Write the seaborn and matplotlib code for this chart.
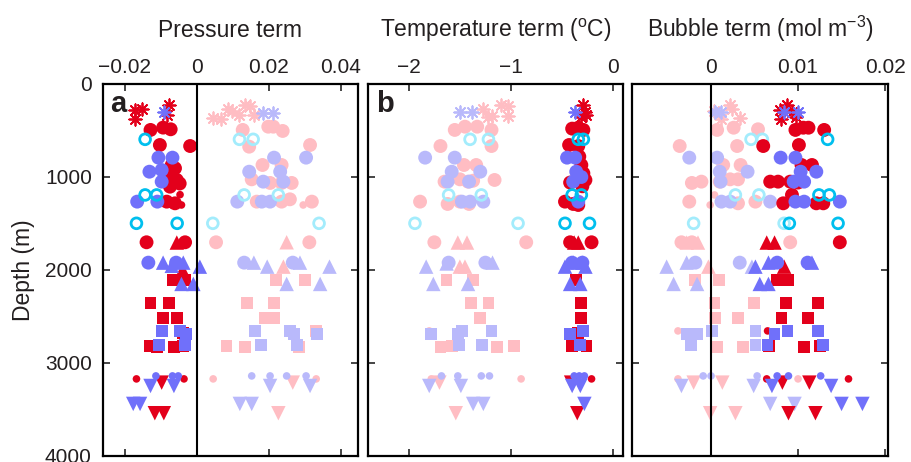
import matplotlib
matplotlib.use('Agg')
import matplotlib.pyplot as plt
import seaborn as sns
import pandas as pd

# each sample: (value, depth in m, site)
# site -> marker: ast = asterisk, circ = big circle, dot = small circle,
# tri = up triangle, sq = square, dtri = down triangle, ring = open circle

# ---- panel a: pressure term ----
pressure_red = [
    (-0.0172, 280, 'ast'), (-0.0154, 273, 'ast'), (-0.0172, 380, 'ast'), (-0.0077, 226, 'ast'), (-0.0084, 333, 'ast'),
    (-0.0129, 494, 'circ'), (-0.0094, 469, 'circ'), (-0.0073, 487, 'circ'), (-0.0103, 656, 'circ'), (-0.0019, 667, 'circ'),
    (-0.0070, 871, 'circ'), (-0.0061, 906, 'circ'), (-0.0080, 990, 'circ'), (-0.0056, 1032, 'circ'), (-0.0048, 1070, 'circ'),
    (-0.0075, 1104, 'circ'), (-0.0084, 1265, 'circ'), (-0.0061, 1283, 'circ'), (-0.0140, 1702, 'circ'), (-0.0033, 1702, 'circ'),
    (-0.0047, 1190, 'dot'), (-0.0043, 1301, 'dot'), (-0.0070, 1300, 'dot'),
    (-0.0056, 1705, 'tri'), (-0.0040, 2000, 'tri'),
    (-0.0066, 2107, 'sq'), (-0.0033, 2107, 'sq'), (-0.0129, 2358, 'sq'), (-0.0078, 2358, 'sq'), (-0.0094, 2512, 'sq'),
    (-0.0056, 2512, 'sq'), (-0.0038, 2680, 'sq'), (-0.0132, 2817, 'sq'), (-0.0112, 2830, 'sq'), (-0.0064, 2830, 'sq'),
    (-0.0038, 2817, 'sq'),
    (-0.0168, 3171, 'dot'), (-0.0036, 3171, 'dot'),
    (-0.0098, 3211, 'dtri'), (-0.0117, 3540, 'dtri'), (-0.0092, 3540, 'dtri'),
]
pressure_blue = [
    (-0.0092, 297, 'ast'),
    (-0.0107, 792, 'circ'), (-0.0068, 792, 'circ'), (-0.0132, 943, 'circ'), (-0.0098, 925, 'circ'), (-0.0098, 1050, 'circ'),
    (-0.0166, 1265, 'circ'), (-0.0110, 1265, 'circ'), (-0.0135, 1921, 'circ'), (-0.0058, 1921, 'circ'),
    (-0.0094, 1921, 'tri'), (-0.0070, 1955, 'tri'), (-0.0038, 1921, 'tri'), (0.0008, 1964, 'tri'), (-0.0043, 2150, 'tri'),
    (-0.0010, 2150, 'tri'),
    (-0.0098, 2655, 'sq'), (-0.0047, 2655, 'sq'), (-0.0031, 2688, 'sq'), (-0.0105, 2806, 'sq'), (-0.0033, 2806, 'sq'),
    (-0.0114, 3139, 'dot'), (-0.0068, 3139, 'dot'), (-0.0052, 3139, 'dot'),
    (-0.0129, 3247, 'dtri'), (-0.0064, 3247, 'dtri'), (-0.0177, 3440, 'dtri'), (-0.0158, 3440, 'dtri'),
]
pressure_cyan = [
    (-0.0144, 595, 'ring'), (-0.0144, 1193, 'ring'), (-0.0112, 1193, 'ring'), (-0.0168, 1498, 'ring'), (-0.0055, 1498, 'ring'),
]
pressure_pink = [
    (0.0045, 369, 'ast'), (0.0066, 380, 'ast'), (0.0087, 272, 'ast'), (0.0096, 287, 'ast'), (0.0118, 333, 'ast'),
    (0.0133, 226, 'ast'), (0.0147, 237, 'ast'), (0.0158, 333, 'ast'),
    (0.0127, 494, 'circ'), (0.0198, 459, 'circ'), (0.0212, 459, 'circ'), (0.0238, 505, 'circ'), (0.0145, 674, 'circ'),
    (0.0314, 656, 'circ'), (0.0182, 871, 'circ'), (0.0235, 871, 'circ'), (0.0152, 1025, 'circ'), (0.0203, 1064, 'circ'),
    (0.0235, 1064, 'circ'), (0.0263, 1064, 'circ'), (0.0166, 1265, 'circ'), (0.0235, 1265, 'circ'), (0.0258, 1240, 'circ'),
    (0.0319, 1265, 'circ'), (0.0053, 1702, 'circ'), (0.0312, 1702, 'circ'),
    (0.0295, 1301, 'dot'),
    (0.0249, 1702, 'tri'), (0.0240, 1964, 'tri'),
    (0.0219, 2107, 'sq'), (0.0300, 2107, 'sq'), (0.0138, 2358, 'sq'), (0.0214, 2358, 'sq'), (0.0189, 2512, 'sq'),
    (0.0214, 2512, 'sq'), (0.0330, 2655, 'sq'), (0.0082, 2817, 'sq'), (0.0133, 2830, 'sq'), (0.0284, 2830, 'sq'),
    (0.0045, 3171, 'dot'), (0.0331, 3171, 'dot'),
    (0.0266, 3211, 'dtri'), (0.0226, 3540, 'dtri'),
]
pressure_lav = [
    (0.0182, 308, 'ast'), (0.0210, 308, 'ast'),
    (0.0214, 792, 'circ'), (0.0303, 792, 'circ'), (0.0145, 943, 'circ'), (0.0231, 943, 'circ'), (0.0184, 1050, 'circ'),
    (0.0240, 1050, 'circ'), (0.0112, 1265, 'circ'), (0.0180, 1265, 'circ'), (0.0203, 1265, 'circ'), (0.0131, 1921, 'circ'),
    (0.0266, 1921, 'circ'),
    (0.0158, 1921, 'tri'), (0.0195, 1964, 'tri'), (0.0286, 1921, 'tri'), (0.0368, 1964, 'tri'), (0.0249, 2150, 'tri'),
    (0.0342, 2150, 'tri'),
    (0.0161, 2655, 'sq'), (0.0258, 2655, 'sq'), (0.0269, 2688, 'sq'), (0.0334, 2688, 'sq'), (0.0177, 2806, 'sq'),
    (0.0277, 2806, 'sq'),
    (0.0152, 3139, 'dot'), (0.0203, 3139, 'dot'), (0.0249, 3139, 'dot'), (0.0303, 3139, 'dot'),
    (0.0203, 3247, 'dtri'), (0.0314, 3247, 'dtri'), (0.0119, 3440, 'dtri'), (0.0152, 3440, 'dtri'),
]
pressure_lcyan = [
    (0.0118, 595, 'ring'), (0.0156, 595, 'ring'), (0.0131, 1193, 'ring'), (0.0226, 1193, 'ring'), (0.0044, 1498, 'ring'),
    (0.0339, 1498, 'ring'),
]

# ---- panel b: temperature term ----
temp_red = [
    (-0.29, 226, 'ast'), (-0.27, 297, 'ast'), (-0.26, 333, 'ast'), (-0.31, 351, 'ast'),
    (-0.40, 480, 'circ'), (-0.29, 494, 'circ'), (-0.34, 470, 'circ'), (-0.43, 656, 'circ'), (-0.34, 667, 'circ'),
    (-0.33, 780, 'circ'), (-0.31, 871, 'circ'), (-0.29, 960, 'circ'), (-0.27, 1032, 'circ'), (-0.42, 1060, 'circ'),
    (-0.30, 1100, 'circ'), (-0.47, 1265, 'circ'), (-0.39, 1290, 'circ'), (-0.34, 1301, 'circ'), (-0.42, 1702, 'circ'),
    (-0.21, 1702, 'circ'),
    (-0.34, 1705, 'tri'), (-0.38, 1705, 'tri'),
    (-0.36, 2107, 'sq'), (-0.31, 2358, 'sq'), (-0.31, 2512, 'sq'), (-0.34, 2680, 'sq'), (-0.40, 2817, 'sq'),
    (-0.26, 2817, 'sq'),
    (-0.21, 3171, 'dot'),
    (-0.41, 3211, 'dtri'), (-0.35, 3540, 'dtri'),
]
temp_blue = [
    (-0.37, 297, 'ast'),
    (-0.45, 792, 'circ'), (-0.37, 792, 'circ'), (-0.36, 943, 'circ'), (-0.31, 1000, 'circ'), (-0.39, 1050, 'circ'),
    (-0.34, 1265, 'circ'), (-0.40, 1921, 'circ'), (-0.30, 1921, 'circ'),
    (-0.47, 1964, 'tri'), (-0.39, 1921, 'tri'), (-0.30, 1921, 'tri'), (-0.27, 1964, 'tri'), (-0.42, 2150, 'tri'),
    (-0.32, 2150, 'tri'),
    (-0.42, 2688, 'sq'), (-0.29, 2655, 'sq'), (-0.32, 2806, 'sq'),
    (-0.38, 3139, 'dot'), (-0.33, 3139, 'dot'), (-0.28, 3139, 'dot'),
    (-0.40, 3247, 'dtri'), (-0.32, 3247, 'dtri'), (-0.28, 3440, 'dtri'),
]
temp_cyan = [
    (-0.34, 595, 'ring'), (-0.29, 595, 'ring'), (-0.40, 1193, 'ring'), (-0.31, 1193, 'ring'), (-0.47, 1498, 'ring'),
    (-0.23, 1498, 'ring'),
]
temp_pink = [
    (-1.27, 272, 'ast'), (-1.19, 340, 'ast'), (-1.10, 226, 'ast'), (-1.03, 237, 'ast'), (-1.03, 345, 'ast'),
    (-1.22, 360, 'ast'),
    (-1.55, 494, 'circ'), (-1.45, 459, 'circ'), (-1.33, 459, 'circ'), (-1.19, 494, 'circ'), (-1.69, 667, 'circ'),
    (-1.19, 667, 'circ'), (-1.46, 871, 'circ'), (-1.34, 871, 'circ'), (-1.65, 1050, 'circ'), (-1.50, 1025, 'circ'),
    (-1.42, 1050, 'circ'), (-1.37, 1040, 'circ'), (-1.16, 1032, 'circ'), (-1.89, 1265, 'circ'), (-1.62, 1290, 'circ'),
    (-1.50, 1265, 'circ'), (-1.41, 1290, 'circ'), (-1.75, 1702, 'circ'), (-0.85, 1702, 'circ'),
    (-1.63, 1301, 'dot'),
    (-1.52, 1705, 'tri'), (-1.43, 1705, 'tri'), (-1.50, 1964, 'tri'), (-1.45, 1964, 'tri'),
    (-1.63, 2107, 'sq'), (-1.37, 2107, 'sq'), (-1.39, 2358, 'sq'), (-1.22, 2358, 'sq'), (-1.30, 2512, 'sq'),
    (-1.69, 2830, 'sq'), (-1.58, 2817, 'sq'), (-1.14, 2830, 'sq'), (-0.97, 2817, 'sq'),
    (-1.80, 2655, 'dot'), (-1.78, 3171, 'dot'), (-0.90, 3171, 'dot'),
    (-1.70, 3211, 'dtri'), (-1.54, 3540, 'dtri'),
]
temp_lav = [
    (-1.50, 297, 'ast'), (-1.38, 297, 'ast'),
    (-1.84, 792, 'circ'), (-1.55, 792, 'circ'), (-1.58, 943, 'circ'), (-1.30, 943, 'circ'), (-1.62, 1050, 'circ'),
    (-1.41, 1050, 'circ'), (-1.48, 1265, 'circ'), (-1.40, 1265, 'circ'), (-1.27, 1265, 'circ'), (-1.61, 1921, 'circ'),
    (-1.25, 1921, 'circ'),
    (-1.83, 1964, 'tri'), (-1.63, 1930, 'tri'), (-1.18, 1921, 'tri'), (-1.76, 2150, 'tri'), (-1.42, 2150, 'tri'),
    (-1.78, 2688, 'sq'), (-1.52, 2688, 'sq'), (-1.48, 2655, 'sq'), (-1.19, 2655, 'sq'), (-1.51, 2806, 'sq'),
    (-1.28, 2806, 'sq'),
    (-1.68, 3139, 'dot'), (-1.52, 3139, 'dot'), (-1.29, 3139, 'dot'), (-1.21, 3139, 'dot'),
    (-1.80, 3247, 'dtri'), (-1.49, 3247, 'dtri'), (-1.37, 3440, 'dtri'), (-1.27, 3440, 'dtri'),
]
temp_lcyan = [
    (-1.40, 595, 'ring'), (-1.22, 595, 'ring'), (-1.61, 1193, 'ring'), (-1.29, 1193, 'ring'), (-1.94, 1498, 'ring'),
    (-0.93, 1498, 'ring'),
]

# ---- panel c: bubble term ----
bubble_red = [
    (0.0079, 280, 'ast'), (0.0087, 226, 'ast'), (0.0093, 297, 'ast'), (0.0080, 380, 'ast'), (0.0098, 351, 'ast'),
    (0.0097, 494, 'circ'), (0.0106, 470, 'circ'), (0.0112, 470, 'circ'), (0.0130, 494, 'circ'), (0.0060, 667, 'circ'),
    (0.0101, 656, 'circ'), (0.0104, 871, 'circ'), (0.0116, 871, 'circ'), (0.0068, 1050, 'circ'), (0.0077, 1050, 'circ'),
    (0.0091, 1050, 'circ'), (0.0100, 1060, 'circ'), (0.0083, 1283, 'circ'), (0.0093, 1193, 'circ'), (0.0121, 1283, 'circ'),
    (0.0129, 1283, 'circ'), (0.0148, 1702, 'circ'),
    (0.0064, 1705, 'tri'), (0.0073, 1705, 'tri'), (0.0084, 1964, 'tri'),
    (0.0076, 2107, 'sq'), (0.0089, 2107, 'sq'), (0.0086, 2358, 'sq'), (0.0123, 2358, 'sq'), (0.0081, 2512, 'sq'),
    (0.0111, 2512, 'sq'), (0.0067, 2817, 'sq'), (0.0107, 2830, 'sq'), (0.0125, 2817, 'sq'),
    (0.0065, 2655, 'dot'), (0.0064, 3171, 'dot'), (0.0158, 3171, 'dot'),
    (0.0082, 3211, 'dtri'), (0.0113, 3211, 'dtri'), (0.0089, 3540, 'dtri'), (0.0120, 3540, 'dtri'),
]
bubble_blue = [
    (0.0084, 297, 'ast'), (0.0100, 297, 'ast'),
    (0.0080, 792, 'circ'), (0.0097, 792, 'circ'), (0.0103, 943, 'circ'), (0.0121, 943, 'circ'), (0.0095, 1050, 'circ'),
    (0.0107, 1050, 'circ'), (0.0097, 1265, 'circ'), (0.0107, 1265, 'circ'), (0.0148, 1265, 'circ'), (0.0076, 1921, 'circ'),
    (0.0111, 1921, 'circ'),
    (0.0051, 1964, 'tri'), (0.0066, 1921, 'tri'), (0.0116, 1921, 'tri'), (0.0056, 2150, 'tri'), (0.0066, 2150, 'tri'),
    (0.0073, 2688, 'sq'), (0.0088, 2655, 'sq'), (0.0123, 2655, 'sq'), (0.0065, 2806, 'sq'), (0.0129, 2806, 'sq'),
    (0.0076, 3139, 'dot'), (0.0089, 3139, 'dot'), (0.0126, 3139, 'dot'),
    (0.0070, 3247, 'dtri'), (0.0138, 3247, 'dtri'), (0.0150, 3440, 'dtri'), (0.0174, 3440, 'dtri'),
]
bubble_cyan = [
    (0.0134, 595, 'ring'), (0.0124, 1193, 'ring'), (0.0136, 1193, 'ring'), (0.0090, 1498, 'ring'), (0.0146, 1498, 'ring'),
]
bubble_pink = [
    (0.0022, 226, 'ast'), (0.0024, 272, 'ast'), (0.0012, 380, 'ast'), (0.0033, 369, 'ast'), (0.0003, 287, 'ast'),
    (0.0007, 494, 'circ'), (0.0026, 470, 'circ'), (0.0054, 487, 'circ'), (-0.0036, 667, 'circ'), (0.0030, 667, 'circ'),
    (0.0014, 871, 'circ'), (0.0034, 871, 'circ'), (-0.0022, 1064, 'circ'), (-0.0011, 1050, 'circ'), (0.0010, 1050, 'circ'),
    (0.0022, 1025, 'circ'), (0.0031, 1025, 'circ'), (-0.0025, 1265, 'circ'), (0.0031, 1283, 'circ'), (0.0051, 1265, 'circ'),
    (-0.0034, 1702, 'circ'), (-0.0022, 1702, 'circ'), (0.0091, 1702, 'circ'),
    (0.0004, 1193, 'dot'), (-0.0001, 1301, 'dot'),
    (-0.0028, 1705, 'tri'), (-0.0015, 1705, 'tri'), (-0.0003, 1964, 'tri'),
    (-0.0018, 2107, 'sq'), (0.0009, 2107, 'sq'), (0.0004, 2358, 'sq'), (0.0049, 2358, 'sq'), (0.0005, 2512, 'sq'),
    (0.0031, 2512, 'sq'), (0.0007, 2830, 'sq'), (0.0037, 2830, 'sq'),
    (-0.0038, 2655, 'dot'), (-0.0038, 3171, 'dot'), (0.0100, 3171, 'dot'),
    (-0.0020, 3211, 'dtri'), (0.0013, 3211, 'dtri'), (-0.0001, 3540, 'dtri'), (0.0028, 3540, 'dtri'),
]
bubble_lav = [
    (0.0004, 297, 'ast'), (0.0012, 297, 'ast'),
    (-0.0025, 792, 'circ'), (0.0007, 792, 'circ'), (0.0010, 943, 'circ'), (0.0042, 943, 'circ'), (0.0011, 1050, 'circ'),
    (0.0012, 1265, 'circ'), (0.0022, 1265, 'circ'), (0.0068, 1265, 'circ'), (-0.0018, 1921, 'circ'), (0.0033, 1921, 'circ'),
    (-0.0051, 1964, 'tri'), (-0.0028, 1921, 'tri'), (0.0047, 1964, 'tri'), (-0.0043, 2150, 'tri'), (-0.0016, 2150, 'tri'),
    (-0.0028, 2688, 'sq'), (-0.0016, 2688, 'sq'), (0.0001, 2655, 'sq'), (0.0051, 2655, 'sq'), (-0.0023, 2806, 'sq'),
    (0.0051, 2806, 'sq'),
    (-0.0009, 3139, 'dot'), (0.0000, 3139, 'dot'), (0.0053, 3139, 'dot'),
    (-0.0034, 3247, 'dtri'), (0.0049, 3247, 'dtri'), (0.0068, 3440, 'dtri'), (0.0096, 3440, 'dtri'),
]
bubble_lcyan = [
    (0.0046, 595, 'ring'), (0.0059, 595, 'ring'), (0.0028, 1193, 'ring'), (0.0055, 1193, 'ring'), (-0.0020, 1498, 'ring'),
    (0.0084, 1498, 'ring'),
]

pressure_ticks = [-0.02, 0, 0.02, 0.04]
temp_ticks = [-2, -1, 0]
bubble_ticks = [0, 0.01, 0.02]
depth_ticks = [0, 1000, 2000, 3000, 4000]

RED, BLUE, CYAN = '#e3001b', '#7070fa', '#00bfee'
PINK, LAV, LCYAN = '#ffbdc3', '#b9b9fb', '#a3ecfc'

MARKERS = {'ast': (8, 2, 0), 'circ': 'o', 'dot': 'o', 'tri': '^', 'sq': 's', 'dtri': 'v', 'ring': 'o'}
SIZES = {'ast': 80, 'circ': 100, 'dot': 30, 'tri': 108, 'sq': 72, 'dtri': 108, 'ring': 60}

sns.set_style('white')
plt.rcParams['font.family'] = ['Liberation Sans', 'DejaVu Sans']
plt.rcParams['mathtext.fontset'] = 'custom'
plt.rcParams['mathtext.rm'] = 'Liberation Sans'
plt.rcParams['mathtext.it'] = 'Liberation Sans'
TXT = '#231f20'


def draw_group(ax, points, color, z):
    df = pd.DataFrame(points, columns=['value', 'depth', 'site'])
    for site in df['site'].unique():
        sub = df[df['site'] == site]
        kw = dict(data=sub, x='value', y='depth', ax=ax, marker=MARKERS[site], s=SIZES[site],
                  legend=False, zorder=z)
        if site == 'ring':
            sns.scatterplot(facecolor='none', edgecolor=color, linewidth=2.0, **kw)
        elif site == 'ast':
            sns.scatterplot(color=color, linewidth=1.3, **kw)
        else:
            sns.scatterplot(color=color, edgecolor='none', linewidth=0, **kw)


def fmt(v):
    return ('%g' % v).replace('-', '\u2212')


fig = plt.figure(figsize=(9.12, 4.62), dpi=100)
panels = [
    (0.1129, 0.2796, 'Pressure term', (-0.0261, 0.0447), pressure_ticks,
     [pressure_pink, pressure_lav, pressure_lcyan, pressure_red, pressure_blue, pressure_cyan], 'a', True),
    (0.4035, 0.2796, r'Temperature term ($^{\mathrm{o}}$C)', (-2.40, 0.098), temp_ticks,
     [temp_pink, temp_lav, temp_lcyan, temp_red, temp_blue, temp_cyan], 'b', False),
    (0.6930, 0.2807, r'Bubble term (mol m$^{-3}$)', (-0.00908, 0.02034), bubble_ticks,
     [bubble_pink, bubble_lav, bubble_lcyan, bubble_red, bubble_blue, bubble_cyan], None, True),
]
colors = [PINK, LAV, LCYAN, RED, BLUE, CYAN]

for i, (left, width, label, xlim, xticks, groups, letter, zero_line) in enumerate(panels):
    ax = fig.add_axes([left, 0.013, width, 0.8052])
    for j, (pts, col) in enumerate(zip(groups, colors)):
        draw_group(ax, pts, col, 2 + j)
    if zero_line:
        ax.axvline(0, color='black', lw=1.5, zorder=10)
    ax.set_xlim(*xlim)
    ax.set_ylim(4000, 0)
    ax.set_xticks(xticks)
    ax.set_xticklabels([fmt(v) for v in xticks])
    ax.set_yticks(depth_ticks)
    ax.xaxis.set_label_position('top')
    ax.set_xlabel(label, fontsize=16.5, color=TXT, labelpad=15)
    ax.tick_params(axis='x', which='both', top=True, bottom=True, labeltop=True, labelbottom=False,
                   direction='in', length=5, width=1.2, labelsize=15, labelcolor=TXT, pad=5)
    ax.tick_params(axis='y', which='both', left=True, right=True, labelleft=(i == 0), labelright=False,
                   direction='in', length=5, width=1.2, labelsize=15, labelcolor=TXT, pad=8)
    if i == 0:
        ax.set_ylabel('Depth (m)', fontsize=16.5, color=TXT, labelpad=7)
    else:
        ax.set_ylabel('')
    for sp in ax.spines.values():
        sp.set_linewidth(1.6)
        sp.set_color('black')
        sp.set_zorder(12)
    if letter:
        ax.text(0.03, 0.925, letter, transform=ax.transAxes, fontsize=21, fontweight='bold',
                color=TXT, va='baseline', ha='left', zorder=15)

fig.savefig('out.png', dpi=100)
